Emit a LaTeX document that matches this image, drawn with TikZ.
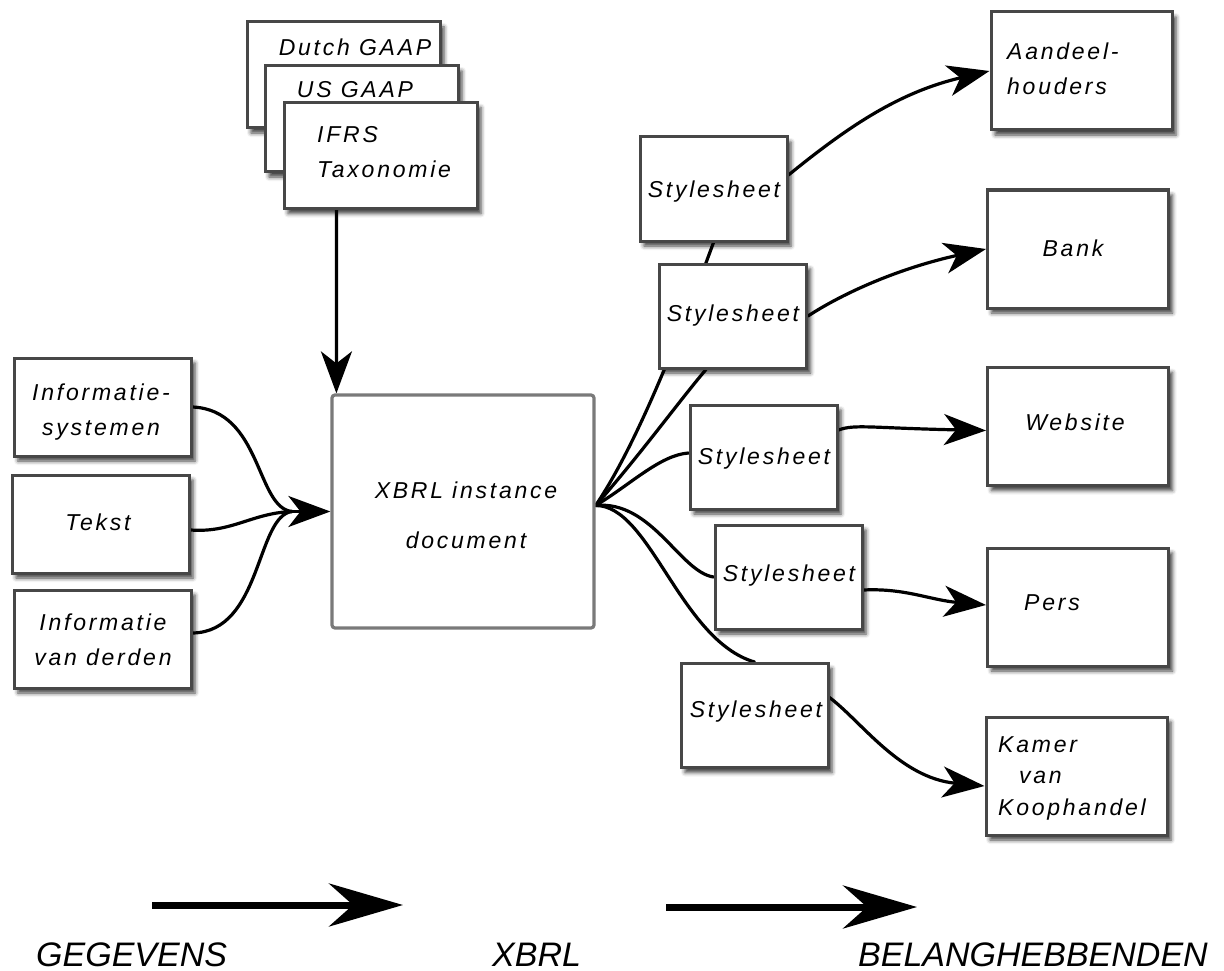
\documentclass[tikz,border=0pt]{standalone}
\usepackage{fontspec}
\setmainfont{Liberation Sans}
\newfontfamily\boxfont[LetterSpace=12]{Liberation Sans}
\usetikzlibrary{arrows.meta,calc,shadows.blur}
\pgfdeclarelayer{background}
\pgfsetlayers{background,main}

\tikzset{
  card/.style={draw=black!72, line width=3pt, fill=white,
    blur shadow={shadow xshift=4pt, shadow yshift=-5pt, shadow blur radius=4pt, shadow opacity=75}},
  sheet/.style={card, minimum width=147pt, minimum height=104pt, inner sep=0pt},
  party/.style={card, minimum width=181pt, minimum height=118pt, inner sep=0pt},
  source/.style={card, minimum width=177pt, minimum height=98pt, inner sep=0pt},
  taxo/.style={card, minimum width=193pt, minimum height=106pt, inner sep=0pt},
  doc/.style={draw=black!52, line width=3.2pt, rounded corners=3pt, fill=white,
    minimum width=262pt, minimum height=233pt, inner sep=0pt},
  lbl/.style={font=\boxfont\itshape\fontsize{23}{35}\selectfont, inner sep=0pt},
  flow/.style={line width=3.2pt, line cap=round},
  flowarrow/.style={flow, -{Stealth[length=42pt, width=31pt, inset=12pt]}},
  bigarrow/.style={line width=7pt, -{Stealth[length=74pt, width=43pt, inset=24pt]}},
  caption/.style={font=\itshape\fontsize{34}{40}\selectfont, inner sep=0pt, anchor=base west},
}

\begin{document}
\begin{tikzpicture}[x=1pt, y=-1pt]
\useasboundingbox (0,0) rectangle (1224,971);

% taxonomies, stacked
\node[taxo] (dutch) at (343.5,75) {};
\node[lbl] (dutch-t) at (355,47) {Dutch GAAP};
\node[taxo] (us) at (361.5,119) {};
\node[lbl] (us-t) at (355,90) {US GAAP};
\node[taxo] (ifrs) at (380.5,155.5) {};
\node[lbl, align=left, anchor=west] (ifrs-t) at (317,152) {IFRS\\Taxonomie};

% data sources
\node[source] (inf1) at (102.5,407) {};
\node[lbl, align=center] (inf1-t) at (101,412) {Informatie-\\systemen};
\node[source] (tekst) at (100.5,524) {};
\node[lbl] (tekst-t) at (98,522) {Tekst};
\node[source] (inf2) at (102.5,639) {};
\node[lbl, align=center] (inf2-t) at (103,640) {Informatie\\van derden};

% instance document
\node[doc] (xbrl) at (463,511.5) {};
\node[lbl, align=center, font=\boxfont\itshape\fontsize{23}{50}\selectfont] (xbrl-t) at (466,515) {XBRL instance\\document};

% stylesheets
\node[sheet] (ss1) at (713.5,189) {};
\node[lbl] (ss1-t) at (714,192) {Stylesheet};
\node[sheet] (ss2) at (733,316) {};
\node[lbl] (ss2-t) at (733,316) {Stylesheet};
\node[sheet] (ss3) at (763.5,457) {};
\node[lbl] (ss3-t) at (764,459) {Stylesheet};
\node[sheet] (ss4) at (788.5,577) {};
\node[lbl] (ss4-t) at (789,576) {Stylesheet};
\node[sheet] (ss5) at (754.5,715.5) {};
\node[lbl] (ss5-t) at (756,712) {Stylesheet};

% stakeholders
\node[party] (aand) at (1081.5,71) {};
\node[lbl, align=left, anchor=west] (aand-t) at (1007,68.5) {Aandeel-\\houders};
\node[party] (bank) at (1078,249) {};
\node[lbl] (bank-t) at (1073,248) {Bank};
\node[party] (web) at (1078,426.5) {};
\node[lbl] (web-t) at (1075,422) {Website};
\node[party] (pers) at (1078,607) {};
\node[lbl] (pers-t) at (1052,603) {Pers};
\node[party] (kamer) at (1076.5,776) {};
\node[lbl, align=left, anchor=west, font=\boxfont\itshape\fontsize{23}{31.5}\selectfont] (kamer-t) at (998,778) {Kamer\\\hspace{21pt}van\\Koophandel};

% bottom legend
\coordinate (l1a) at (152,905);
\coordinate (l1b) at (403,905);
\coordinate (l2a) at (666,907);
\coordinate (l2b) at (917,907);
\draw[bigarrow] (l1a) -- (l1b);
\draw[bigarrow] (l2a) -- (l2b);
\node[caption] (cap1) at (36,966) {GEGEVENS};
\node[caption] (cap2) at (492,966) {XBRL};
\node[caption] (cap3) at (858,966) {BELANGHEBBENDEN};

\begin{pgfonlayer}{background}
  % taxonomy into the instance document
  \coordinate (taxo-out) at ($(ifrs.south west)+(54,0)$);
  \coordinate (doc-in) at ($(xbrl.north west)+(6,0)$);
  \draw[flowarrow] (taxo-out) -- (doc-in);

  % sources merging into the document
  \coordinate (merge) at (292,511.5);
  \draw[flow] (inf1.east) .. controls (262,410) and (256,508) .. (merge);
  \draw[flow] ($(tekst.east)+(0,6)$) .. controls (232,533) and (252,513) .. (merge);
  \draw[flow] ($(inf2.east)+(0,-6)$) .. controls (262,632) and (256,516) .. (merge);
  \draw[flowarrow] (merge) -- (xbrl.west);

  % fan out to the stylesheets
  \coordinate (fan) at ($(xbrl.east)+(0,-6)$);
  \draw[flow] (fan) .. controls (640,440) and (685,320) .. (ss1.south);
  \draw[flow] (fan) .. controls (640,455) and (680,400) .. ($(ss2.south)+(-27,0)$);
  \draw[flow] (fan) .. controls (630,485) and (660,455) .. ($(ss3.west)+(0,-4)$);
  \draw[flow] (fan) .. controls (652,500) and (680,572) .. (ss4.west);
  \draw[flow] (fan) .. controls (650,505) and (680,640) .. (ss5.north);

  % stylesheets to stakeholders
  \draw[flowarrow] ($(ss1.east)+(0,-14)$) .. controls (850,125) and (900,92) .. (aand.west);
  \draw[flowarrow] (ss2.east) .. controls (845,292) and (900,268) .. (bank.west);
  \draw[flowarrow] ($(ss3.east)+(0,-27)$) .. controls (855,424) and (870,428) .. ($(web.west)+(0,4)$);
  \draw[flowarrow] ($(ss4.east)+(0,13)$) .. controls (905,588) and (930,600) .. ($(pers.west)+(0,-2)$);
  \draw[flowarrow] ($(ss5.east)+(0,-18)$) .. controls (862,722) and (900,778) .. ($(kamer.west)+(0,10)$);
\end{pgfonlayer}
\end{tikzpicture}
\end{document}
